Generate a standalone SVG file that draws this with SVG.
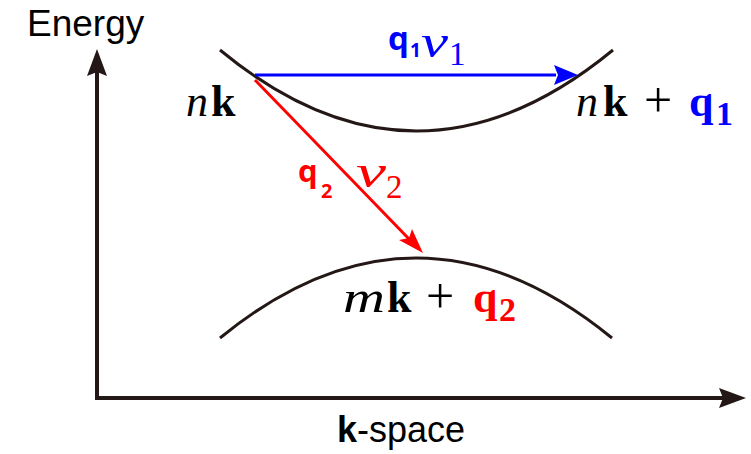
<svg xmlns="http://www.w3.org/2000/svg" width="751" height="454" viewBox="0 0 751 454">
<defs>
<style>
.ax{stroke:#231815;stroke-width:4;fill:none}
.crv{stroke:#231815;stroke-width:3;fill:none}
.sans{font-family:"Liberation Sans",Arial,sans-serif}
.math{font-family:"Liberation Serif","DejaVu Serif",serif}
.it{font-style:italic}
.b{font-weight:bold}
.bs{font-family:"Open Sans","Liberation Sans",sans-serif;font-weight:bold}
.plus{font-size:50px}
</style>
</defs>
<rect width="751" height="454" fill="#fff"/>
<g id="axes">
<path class="ax" d="M97,70V398H725"/>
<path d="M97,49L87,76L97,72L107,76z" fill="#231815"/>
<path d="M746,398L719,388L723,398L719,408z" fill="#231815"/>
</g>
<g id="upper-band"><path class="crv" d="M220,50Q416,212 613,50"/></g>
<g id="lower-band"><path class="crv" d="M220,338Q416,178 612,338"/></g>
<g id="connectors">
<line x1="255" y1="75" x2="556" y2="75" stroke="#0000ff" stroke-width="3"/>
<path d="M578,75L554,65L558,75L554,85z" fill="#0000ff"/>
<line x1="255" y1="80" x2="410" y2="240" stroke="#ff0000" stroke-width="3"/>
<path d="M423,253L399,240L409,238L412,229z" fill="#ff0000"/>
</g>
<g id="labels">
<text class="sans" x="27" y="36" font-size="37">Energy</text>
<text class="sans" x="337" y="442" font-size="36"><tspan class="b">k</tspan>-space</text>
<text class="math" y="116" font-size="44"><tspan class="it" x="186">n</tspan><tspan class="b" x="211">k</tspan></text>
<g id="label-nk-q1">
<text class="math" y="116" font-size="44"><tspan class="it" x="576">n</tspan><tspan class="b" x="603">k</tspan><tspan class="plus" x="644" dy="1">+</tspan><tspan class="b" fill="#0000ff" x="689" dy="-1">q</tspan></text>
<text class="math b" x="716" y="125" font-size="34" fill="#0000ff">1</text>
</g>
<g id="label-mk-q2">
<text class="math" y="312" font-size="44"><tspan class="it" x="343" textLength="42" lengthAdjust="spacingAndGlyphs">m</tspan><tspan class="b" x="387">k</tspan><tspan class="plus" x="426" dy="1">+</tspan><tspan class="b" fill="#ff0000" x="473" dy="-1">q</tspan></text>
<text class="math b" x="499" y="321" font-size="34" fill="#ff0000">2</text>
</g>
<g id="label-q1nu1" fill="#0000ff">
<text class="bs" x="388" y="50" font-size="33">q</text>
<text class="bs" x="410" y="57" font-size="19">1</text>
<text class="math it" x="421" y="57" font-size="46" textLength="27" lengthAdjust="spacingAndGlyphs">ν</text>
<text class="math" x="449" y="65" font-size="33">1</text>
</g>
<g id="label-q2nu2" fill="#ff0000">
<text class="bs" x="298" y="182" font-size="31">q</text>
<text class="bs" x="321" y="198" font-size="20">2</text>
<text class="math it" x="356" y="187" font-size="46" textLength="30" lengthAdjust="spacingAndGlyphs">ν</text>
<text class="math" x="386" y="198" font-size="33">2</text>
</g>
</g>
</svg>
